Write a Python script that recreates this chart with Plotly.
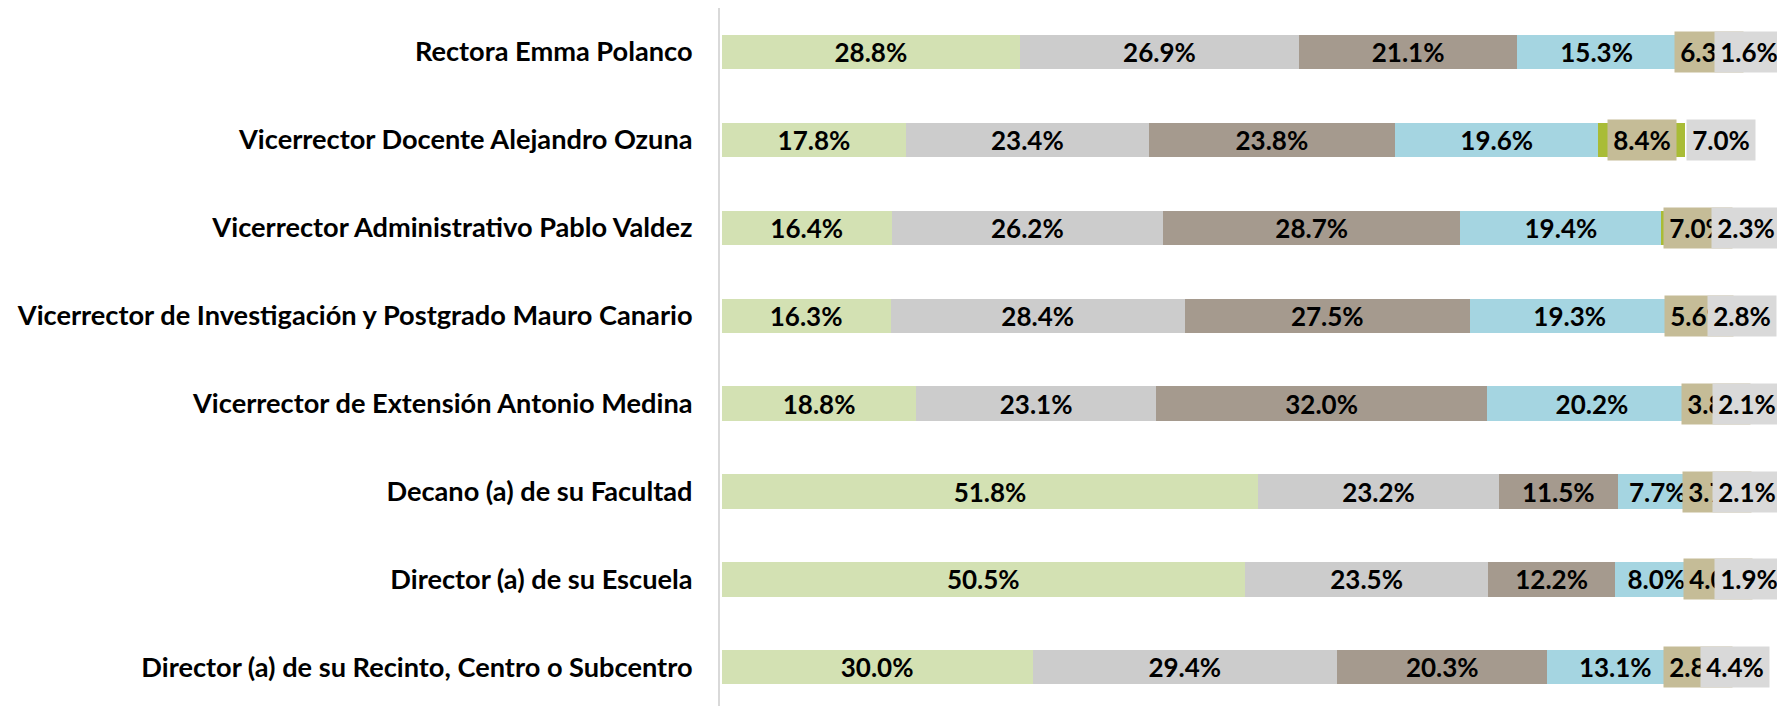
import plotly.graph_objects as go

categories = [
    "Rectora Emma Polanco",
    "Vicerrector Docente Alejandro Ozuna",
    "Vicerrector Administrativo Pablo Valdez",
    "Vicerrector de Investigación y Postgrado Mauro Canario",
    "Vicerrector de Extensión Antonio Medina",
    "Decano (a) de su Facultad",
    "Director (a) de su Escuela",
    "Director (a) de su Recinto, Centro o Subcentro",
]

s1 = [28.8, 17.8, 16.4, 16.3, 18.8, 51.8, 50.5, 30.0]
s2 = [26.9, 23.4, 26.2, 28.4, 23.1, 23.2, 23.5, 29.4]
s3 = [21.1, 23.8, 28.7, 27.5, 32.0, 11.5, 12.2, 20.3]
s4 = [15.3, 19.6, 19.4, 19.3, 20.2, 7.7, 8.0, 13.1]
s5 = [6.3, 8.4, 7.0, 5.6, 3.8, 3.7, 4.0, 2.8]
s6 = [1.6, 7.0, 2.3, 2.8, 2.1, 2.1, 1.9, 4.4]

series = [s1, s2, s3, s4, s5, s6]
bar_colors = ["#D3E1B3", "#CCCCCC", "#A59A8E", "#A5D5E1", "#A9BC36", "rgba(0,0,0,0)"]
label_bg = [None, None, None, None, "#C5BC97", "#D9D9D9"]

FONT = "Lato"
LSIZE = 26

fig = go.Figure()
for i, vals in enumerate(series):
    inside = i < 4
    fig.add_trace(go.Bar(
        y=categories, x=vals, orientation="h",
        marker=dict(color=bar_colors[i], line=dict(width=0)),
        text=[f"{v:.1f}%" for v in vals] if inside else None,
        textposition="inside" if inside else "none",
        insidetextanchor="middle",
        textangle=0,
        constraintext="none",
        textfont=dict(family=FONT, size=LSIZE, color="#000000", weight="bold"),
        hoverinfo="skip",
        showlegend=False,
    ))

# boxed labels for the last two series
annotations = []
for i in (4, 5):
    for j, cat in enumerate(categories):
        base = sum(series[k][j] for k in range(i))
        center = base + series[i][j] / 2
        annotations.append(dict(
            x=center, y=cat, xref="x", yref="y",
            text=f"{series[i][j]:.1f}%", showarrow=False,
            bgcolor=label_bg[i], width=68, height=40, borderpad=0,
            align="center", valign="middle",
            font=dict(family=FONT, size=LSIZE, color="#000000", weight="bold"),
        ))

fig.update_layout(
    template="none",
    barmode="stack",
    bargap=0.61,
    width=1777, height=698,
    autosize=False,
    margin=dict(l=712, r=0, t=0, b=0, pad=0),
    paper_bgcolor="white", plot_bgcolor="white",
    annotations=annotations,
    xaxis=dict(range=[-0.164, 102.63], showgrid=False, zeroline=False,
               showticklabels=False, showline=False, fixedrange=True,
               automargin=False),
    yaxis=dict(categoryorder="array", categoryarray=categories,
               range=[7.44, -0.5], showgrid=False, zeroline=False,
               showline=True, linecolor="#D9D9D9", linewidth=2,
               ticks="", ticklabelstandoff=20, automargin=False,
               tickfont=dict(family=FONT, size=27.2, color="#000000", weight="bold")),
)

fig.write_html("out.html")
